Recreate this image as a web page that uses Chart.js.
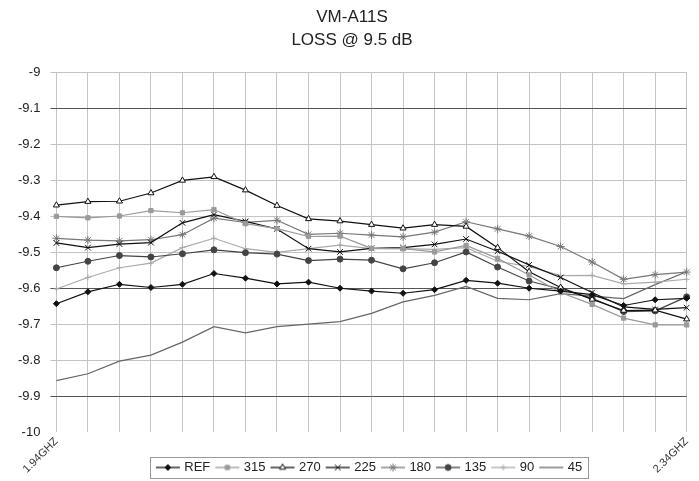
<!DOCTYPE html>
<html>
<head>
<meta charset="utf-8">
<script src="https://cdn.jsdelivr.net/npm/chart.js@4/dist/chart.umd.min.js"></script>
<style>
  body { margin: 0; background: #fff; }
  #wrap { width: 699px; height: 481px; }
</style>
</head>
<body>
<div id="wrap"><canvas id="lossChart" width="699" height="481"></canvas></div>
<script>
const freqs = ["1.94GHZ", "1.96GHZ", "1.98GHZ", "2.00GHZ", "2.02GHZ", "2.04GHZ", "2.06GHZ",
  "2.08GHZ", "2.10GHZ", "2.12GHZ", "2.14GHZ", "2.16GHZ", "2.18GHZ", "2.20GHZ",
  "2.22GHZ", "2.24GHZ", "2.26GHZ", "2.28GHZ", "2.30GHZ", "2.32GHZ", "2.34GHZ"];

const ref = [-9.643, -9.61, -9.589, -9.598, -9.589, -9.559, -9.572, -9.588, -9.583, -9.6, -9.608,
  -9.614, -9.604, -9.578, -9.586, -9.6, -9.608, -9.618, -9.648, -9.632, -9.628];
const s315 = [-9.40, -9.404, -9.399, -9.384, -9.39, -9.381, -9.42, -9.434, -9.456, -9.455, -9.489,
  -9.49, -9.499, -9.481, -9.517, -9.563, -9.612, -9.645, -9.683, -9.702, -9.702];
const s270 = [-9.369, -9.359, -9.358, -9.335, -9.30, -9.29, -9.327, -9.37, -9.407, -9.413, -9.423,
  -9.433, -9.423, -9.428, -9.487, -9.554, -9.598, -9.631, -9.662, -9.661, -9.686];
const s225 = [-9.474, -9.487, -9.477, -9.473, -9.418, -9.395, -9.414, -9.435, -9.49, -9.499, -9.489,
  -9.487, -9.478, -9.463, -9.497, -9.535, -9.57, -9.612, -9.652, -9.659, -9.654];
const s180 = [-9.461, -9.466, -9.468, -9.465, -9.451, -9.405, -9.417, -9.411, -9.45, -9.447, -9.452,
  -9.457, -9.444, -9.415, -9.435, -9.455, -9.484, -9.527, -9.575, -9.562, -9.555];
const s135 = [-9.543, -9.525, -9.509, -9.513, -9.504, -9.493, -9.501, -9.505, -9.523, -9.519, -9.522,
  -9.546, -9.529, -9.499, -9.541, -9.58, -9.602, -9.628, -9.665, -9.663, -9.624];
const s90 = [-9.602, -9.57, -9.543, -9.53, -9.487, -9.461, -9.49, -9.5, -9.49, -9.48, -9.49,
  -9.49, -9.492, -9.487, -9.525, -9.54, -9.565, -9.564, -9.588, -9.583, -9.575];
const s45 = [-9.857, -9.838, -9.803, -9.786, -9.75, -9.707, -9.724, -9.707, -9.70, -9.693, -9.67,
  -9.638, -9.62, -9.595, -9.628, -9.632, -9.615, -9.622, -9.629, -9.59, -9.554];

const yTicks = [-9, -9.1, -9.2, -9.3, -9.4, -9.5, -9.6, -9.7, -9.8, -9.9, -10];

const FONT = "'Liberation Sans', Arial, sans-serif";

// small canvas for each legend entry: line with marker in the middle
function legendSymbol(ds) {
  const c = document.createElement("canvas");
  c.width = 26; c.height = 12;
  const ctx = c.getContext("2d");
  ctx.strokeStyle = ds.borderColor;
  ctx.lineWidth = 1.3;
  ctx.beginPath();
  ctx.moveTo(1, 6); ctx.lineTo(25, 6);
  ctx.stroke();
  if (ds.pointRadius > 0) {
    ctx.fillStyle = ds.pointBackgroundColor;
    ctx.strokeStyle = ds.pointBorderColor;
    ctx.lineWidth = 1;
    Chart.helpers.drawPoint(ctx, { pointStyle: ds.pointStyle, radius: ds.pointRadius, rotation: 0, borderWidth: 1 }, 13, 6);
  }
  return c;
}

function series(label, data, color, style, radius, fill) {
  return {
    label: label,
    data: data,
    borderColor: color,
    borderWidth: 1.2,
    pointStyle: style,
    pointRadius: radius,
    pointBackgroundColor: fill || color,
    pointBorderColor: color,
    pointBorderWidth: 1,
    fill: false,
    tension: 0
  };
}

const datasets = [
  series("REF", ref, "#111", "rectRot", 3),
  series("315", s315, "#9a9a9a", "rect", 3),
  series("270", s270, "#111", "triangle", 3.5, "#fff"),
  series("225", s225, "#111", "crossRot", 4),
  series("180", s180, "#777", "star", 4),
  series("135", s135, "#444", "circle", 3),
  series("90", s90, "#aaa", "cross", 3),
  series("45", s45, "#666", "circle", 0)
];

// let the rotated x labels hang down beside the legend, nudge and box the legend
const tweaks = {
  id: "tweaks",
  afterLayout(chart) {
    chart.scales.x.bottom = chart.height;
    chart.legend.left += 18;
    chart.legend.right += 18;
  },
  afterDraw(chart) {
    const boxes = chart.legend.legendHitBoxes;
    if (!boxes || !boxes.length) return;
    const left = Math.min(...boxes.map(b => b.left)) - 8;
    const right = Math.max(...boxes.map(b => b.left + b.width)) + 6;
    const top = Math.min(...boxes.map(b => b.top)) - 4;
    const bottom = Math.max(...boxes.map(b => b.top + b.height)) + 4;
    const ctx = chart.ctx;
    ctx.save();
    ctx.strokeStyle = "#999";
    ctx.lineWidth = 1;
    ctx.strokeRect(Math.round(left) + 0.5, Math.round(top) + 0.5, Math.round(right - left), Math.round(bottom - top));
    ctx.restore();
  }
};

const ctx = document.getElementById("lossChart").getContext("2d");
const chart = new Chart(ctx, {
  type: "line",
  data: { labels: freqs, datasets: datasets },
  plugins: [tweaks],
  options: {
    responsive: false,
    animation: false,
    layout: { padding: { left: 8, right: 3, top: 3, bottom: 0 } },
    plugins: {
      title: {
        display: true,
        text: ["VM-A11S", "LOSS @ 9.5 dB"],
        color: "#222",
        font: { family: FONT, size: 17, weight: "normal", lineHeight: 1.4 },
        padding: { top: 2, bottom: 20 }
      },
      legend: {
        display: true,
        position: "bottom",
        maxHeight: 27,
        labels: {
          color: "#222",
          font: { family: FONT, size: 13 },
          usePointStyle: true,
          pointStyleWidth: 20,
          padding: 7,
          generateLabels(chart) {
            const items = Chart.defaults.plugins.legend.labels.generateLabels(chart);
            items.forEach(item => {
              item.pointStyle = legendSymbol(chart.data.datasets[item.datasetIndex]);
            });
            return items;
          }
        }
      },
      tooltip: { enabled: false }
    },
    scales: {
      x: {
        offset: false,
        grid: { color: "#c4c4c4", lineWidth: 1, drawTicks: false },
        border: { display: false },
        ticks: {
          autoSkip: false,
          maxRotation: 45,
          minRotation: 45,
          padding: 3,
          color: "#333",
          font: { family: FONT, size: 11 },
          callback: (v, i) => (i === 0 || i === freqs.length - 1) ? freqs[i] : ""
        },
        afterFit(scale) { scale.height = 22; }
      },
      y: {
        min: -10,
        max: -9,
        afterBuildTicks(scale) { scale.ticks = yTicks.map(v => ({ value: v })); },
        grid: {
          tickLength: 6,
          lineWidth: 1,
          color(c) {
            const v = Math.round(c.tick.value * 10) / 10;
            if (v === -10) return "rgba(0,0,0,0)";
            if (v === -9.1 || v === -9.6 || v === -9.9) return "#555";
            return "#c4c4c4";
          }
        },
        border: { display: false },
        ticks: {
          color: "#222",
          padding: 10,
          font: { family: FONT, size: 13 },
          callback: v => String(Math.round(v * 10) / 10)
        }
      }
    }
  }
});
</script>
</body>
</html>
